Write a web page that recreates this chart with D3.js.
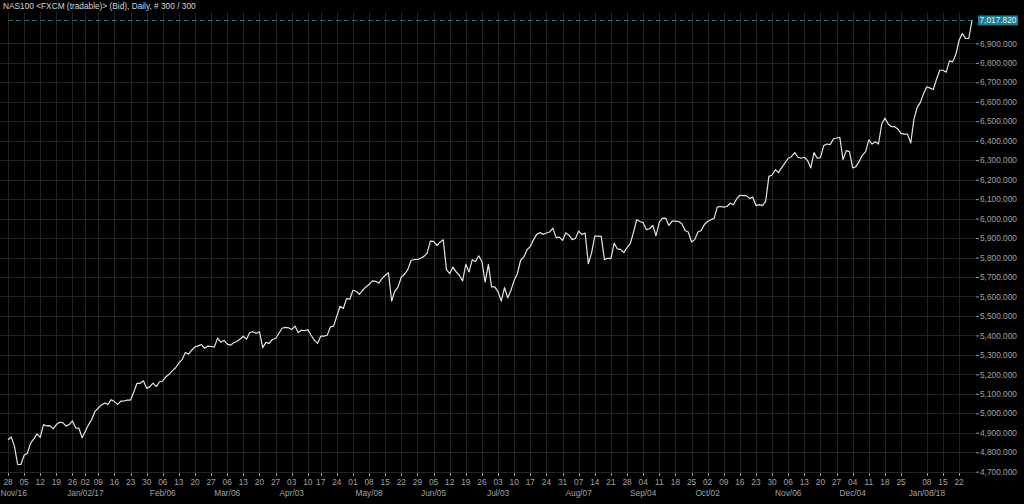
<!DOCTYPE html>
<html><head><meta charset="utf-8">
<script src="https://cdn.jsdelivr.net/npm/d3@7"></script>
<style>html,body{margin:0;padding:0;background:#000;overflow:hidden}svg{display:block}</style>
</head><body><svg id="c" width="1024" height="504"></svg>
<script>
const title = "NAS100 <FXCM (tradable)> (Bid), Daily, # 300 / 300";
const firstDay = "2016-11-28";
const lastDay = "2018-01-26";
const holidays = ["2016-12-26","2017-01-02","2017-04-14","2017-12-25","2018-01-01"];
const closes = [
4864,4879,4830,4737,4737,4784,4795,4847,4869,4894,
4876,4942,4935,4937,4920,4942,4954,4952,4934,4942,
4961,4925,4923,4874,4908,4942,4969,5010,5027,5043,
5053,5046,5070,5060,5046,5062,5063,5068,5068,5108,
5154,5154,5167,5128,5137,5155,5137,5162,5166,5188,
5201,5219,5234,5259,5276,5312,5304,5324,5341,5346,
5353,5334,5345,5343,5340,5386,5365,5374,5355,5350,
5362,5369,5382,5396,5381,5415,
5419,5410,5419,5337,5364,5359,5379,5384,5410,5437,
5441,5439,5430,5448,5415,5427,5424,5430,5401,5376,
5359,5396,5396,5401,5444,5448,5500,5550,5538,5589,
5586,5632,5627,5611,5632,5649,5661,5680,5678,5669,
5692,5709,5722,5577,5628,5649,5700,5714,5738,5785,
5790,5790,5796,5806,5823,5884,5883,5862,5879,5891,
5738,5717,5751,5726,5709,5680,5765,5726,5789,5780,
5809,5780,5673,5765,5649,5649,
5624,5576,5646,5593,5632,5683,5718,5786,
5803,5840,5857,5892,5919,5929,5919,5926,5931,5951,
5902,5905,5888,5927,5915,5892,5898,5936,5919,5926,
5769,5823,5910,5910,5909,5789,5796,5794,5874,5844,
5842,5825,5851,5871,5929,5994,5985,5979,5943,5948,
5965,5912,5982,6001,6002,5965,5987,5987,5985,5973,
5939,5931,5880,5892,5931,5939,5970,5985,5994,6001,
6059,6062,6059,6062,6079,6071,6101,6120,
6118,6118,
6104,6110,6067,6072,6067,6089,6217,6224,6251,6236,
6263,6286,6310,6318,6339,6315,6310,6315,6298,6260,
6339,6310,6313,6375,6383,6380,6409,6414,6417,6303,
6349,6344,6260,6267,6294,6325,6344,6404,6383,6395,
6383,6486,6516,6486,6472,6472,6460,6438,6434,6434,
6388,6511,6571,6597,6643,6677,6670,6663,6716,6762,
6762,6752,6810,6805,6844,6916,6950,6926,6925,7017.82
];
const yTickValues = [4700,4800,4900,5000,5100,5200,5300,5400,5500,5600,5700,5800,5900,6000,6100,6200,6300,6400,6500,6600,6700,6800,6900];
const hiddenWeekTicks = ["2018-01-01"];
const monthLabelWeeks = ["2016-11-28","2017-01-02","2017-02-06","2017-03-06","2017-04-03","2017-05-08","2017-06-05","2017-07-03","2017-08-07","2017-09-04","2017-10-02","2017-11-06","2017-12-04","2018-01-08"];
const monthLabels = ["Nov/16","Jan/02/17","Feb/06","Mar/06","Apr/03","May/08","Jun/05","Jul/03","Aug/07","Sep/04","Oct/02","Nov/06","Dec/04","Jan/08/18"];

const fmtDay = d3.timeFormat("%Y-%m-%d");
const parse = d3.timeParse("%Y-%m-%d");
// trading days (calendar)
const dates = d3.timeDay.range(parse(firstDay), d3.timeDay.offset(parse(lastDay), 1))
  .filter(d => d.getDay() !== 0 && d.getDay() !== 6 && !holidays.includes(fmtDay(d)))
  .map(fmtDay);
const data = dates.map((d, i) => ({date: d, value: closes[i]}));

const svg = d3.select("#c");
const W = 1024, H = 504;
svg.append("rect").attr("width", W).attr("height", H).attr("fill", "#000");

const x = d3.scalePoint().domain(dates).range([8, 972]);
const y = d3.scaleLinear().domain([4700, 7000]).range([471.7, 23.9]);
const font = "Liberation Sans, Arial, sans-serif";
const gridColor = "#232323";
const plotTop = 12, plotBottom = 472, plotRight = 976;

// weekly ticks: first trading day of each week, labelled with monday
const weekTicks = [];
dates.forEach(d => {
  const mon = fmtDay(d3.timeMonday.floor(parse(d)));
  if (!weekTicks.length || weekTicks[weekTicks.length - 1].monday !== mon) {
    weekTicks.push({monday: mon, date: d, label: d3.timeFormat("%d")(parse(mon))});
  }
});
const shownWeeks = weekTicks.filter(t => !hiddenWeekTicks.includes(t.monday));

const g = svg.append("g");
// vertical grid
g.selectAll("line.vg").data(shownWeeks).join("line")
  .attr("x1", d => Math.round(x(d.date)) + 0.5).attr("x2", d => Math.round(x(d.date)) + 0.5)
  .attr("y1", plotTop).attr("y2", plotBottom)
  .attr("stroke", gridColor).attr("stroke-width", 1);
// horizontal grid
g.selectAll("line.hg").data(yTickValues).join("line")
  .attr("x1", 0).attr("x2", plotRight)
  .attr("y1", d => Math.round(y(d)) + 0.5).attr("y2", d => Math.round(y(d)) + 0.5)
  .attr("stroke", gridColor).attr("stroke-width", 1);

// x axis tick marks and labels
g.selectAll("line.xt").data(shownWeeks).join("line")
  .attr("x1", d => Math.round(x(d.date)) + 0.5).attr("x2", d => Math.round(x(d.date)) + 0.5)
  .attr("y1", 473).attr("y2", 476).attr("stroke", "#9a9a9a");
g.selectAll("text.xl").data(shownWeeks).join("text")
  .attr("x", d => x(d.date)).attr("y", 484.5)
  .attr("text-anchor", "middle").attr("fill", "#a0a0a0")
  .attr("font-family", font).attr("font-size", "8.3px")
  .text(d => d.label);

const weekByMonday = new Map(weekTicks.map(t => [t.monday, t.date]));
const ml = g.selectAll("text.ml").data(monthLabelWeeks).join("text")
  .attr("y", 496).attr("fill", "#a0a0a0")
  .attr("font-family", font).attr("font-size", "8.3px")
  .text((d, i) => monthLabels[i]);
ml.each(function(d) {
  const w = this.getComputedTextLength();
  const cx = x(weekByMonday.get(d));
  d3.select(this).attr("x", Math.max(0.5, cx - w / 2));
});

// y axis
const yAxis = d3.axisRight(y).tickValues(yTickValues).tickSize(3).tickPadding(1)
  .tickFormat(d3.format(",.3f"));
const ya = svg.append("g").attr("transform", `translate(${plotRight},0)`).call(yAxis);
ya.select(".domain").remove();
ya.selectAll(".tick line").attr("stroke", "#9a9a9a");
ya.selectAll(".tick text").attr("fill", "#a0a0a0").attr("font-family", font).attr("font-size", "8.3px");

// last value dashed line
const last = data[data.length - 1];
svg.append("line")
  .attr("x1", 8).attr("x2", plotRight)
  .attr("y1", Math.round(y(last.value)) + 0.5).attr("y2", Math.round(y(last.value)) + 0.5)
  .attr("stroke", "#1d6e7e").attr("stroke-dasharray", "5,3").attr("stroke-width", 1);

// price line
const line = d3.line().x(d => x(d.date)).y(d => y(d.value));
svg.append("path").datum(data)
  .attr("d", line).attr("fill", "none")
  .attr("stroke", "#e4e4e4").attr("stroke-width", 1.2).attr("stroke-linejoin", "round");

// last value box
const lbl = d3.format(",.3f")(last.value);
const bx = svg.append("g");
const bt = bx.append("text").attr("x", 979.5).attr("y", y(last.value) + 3)
  .attr("fill", "#e8f4f6").attr("font-family", font).attr("font-size", "8.3px").text(lbl);
const bw = bt.node().getComputedTextLength();
bx.insert("rect", "text").attr("x", 978).attr("y", y(last.value) - 5)
  .attr("width", bw + 3).attr("height", 10).attr("fill", "#1a7d90");

// title
svg.append("text").attr("x", 3).attr("y", 9)
  .attr("fill", "#d6d6d6").attr("font-family", font).attr("font-size", "8.3px")
  .text(title);
</script></body></html>
